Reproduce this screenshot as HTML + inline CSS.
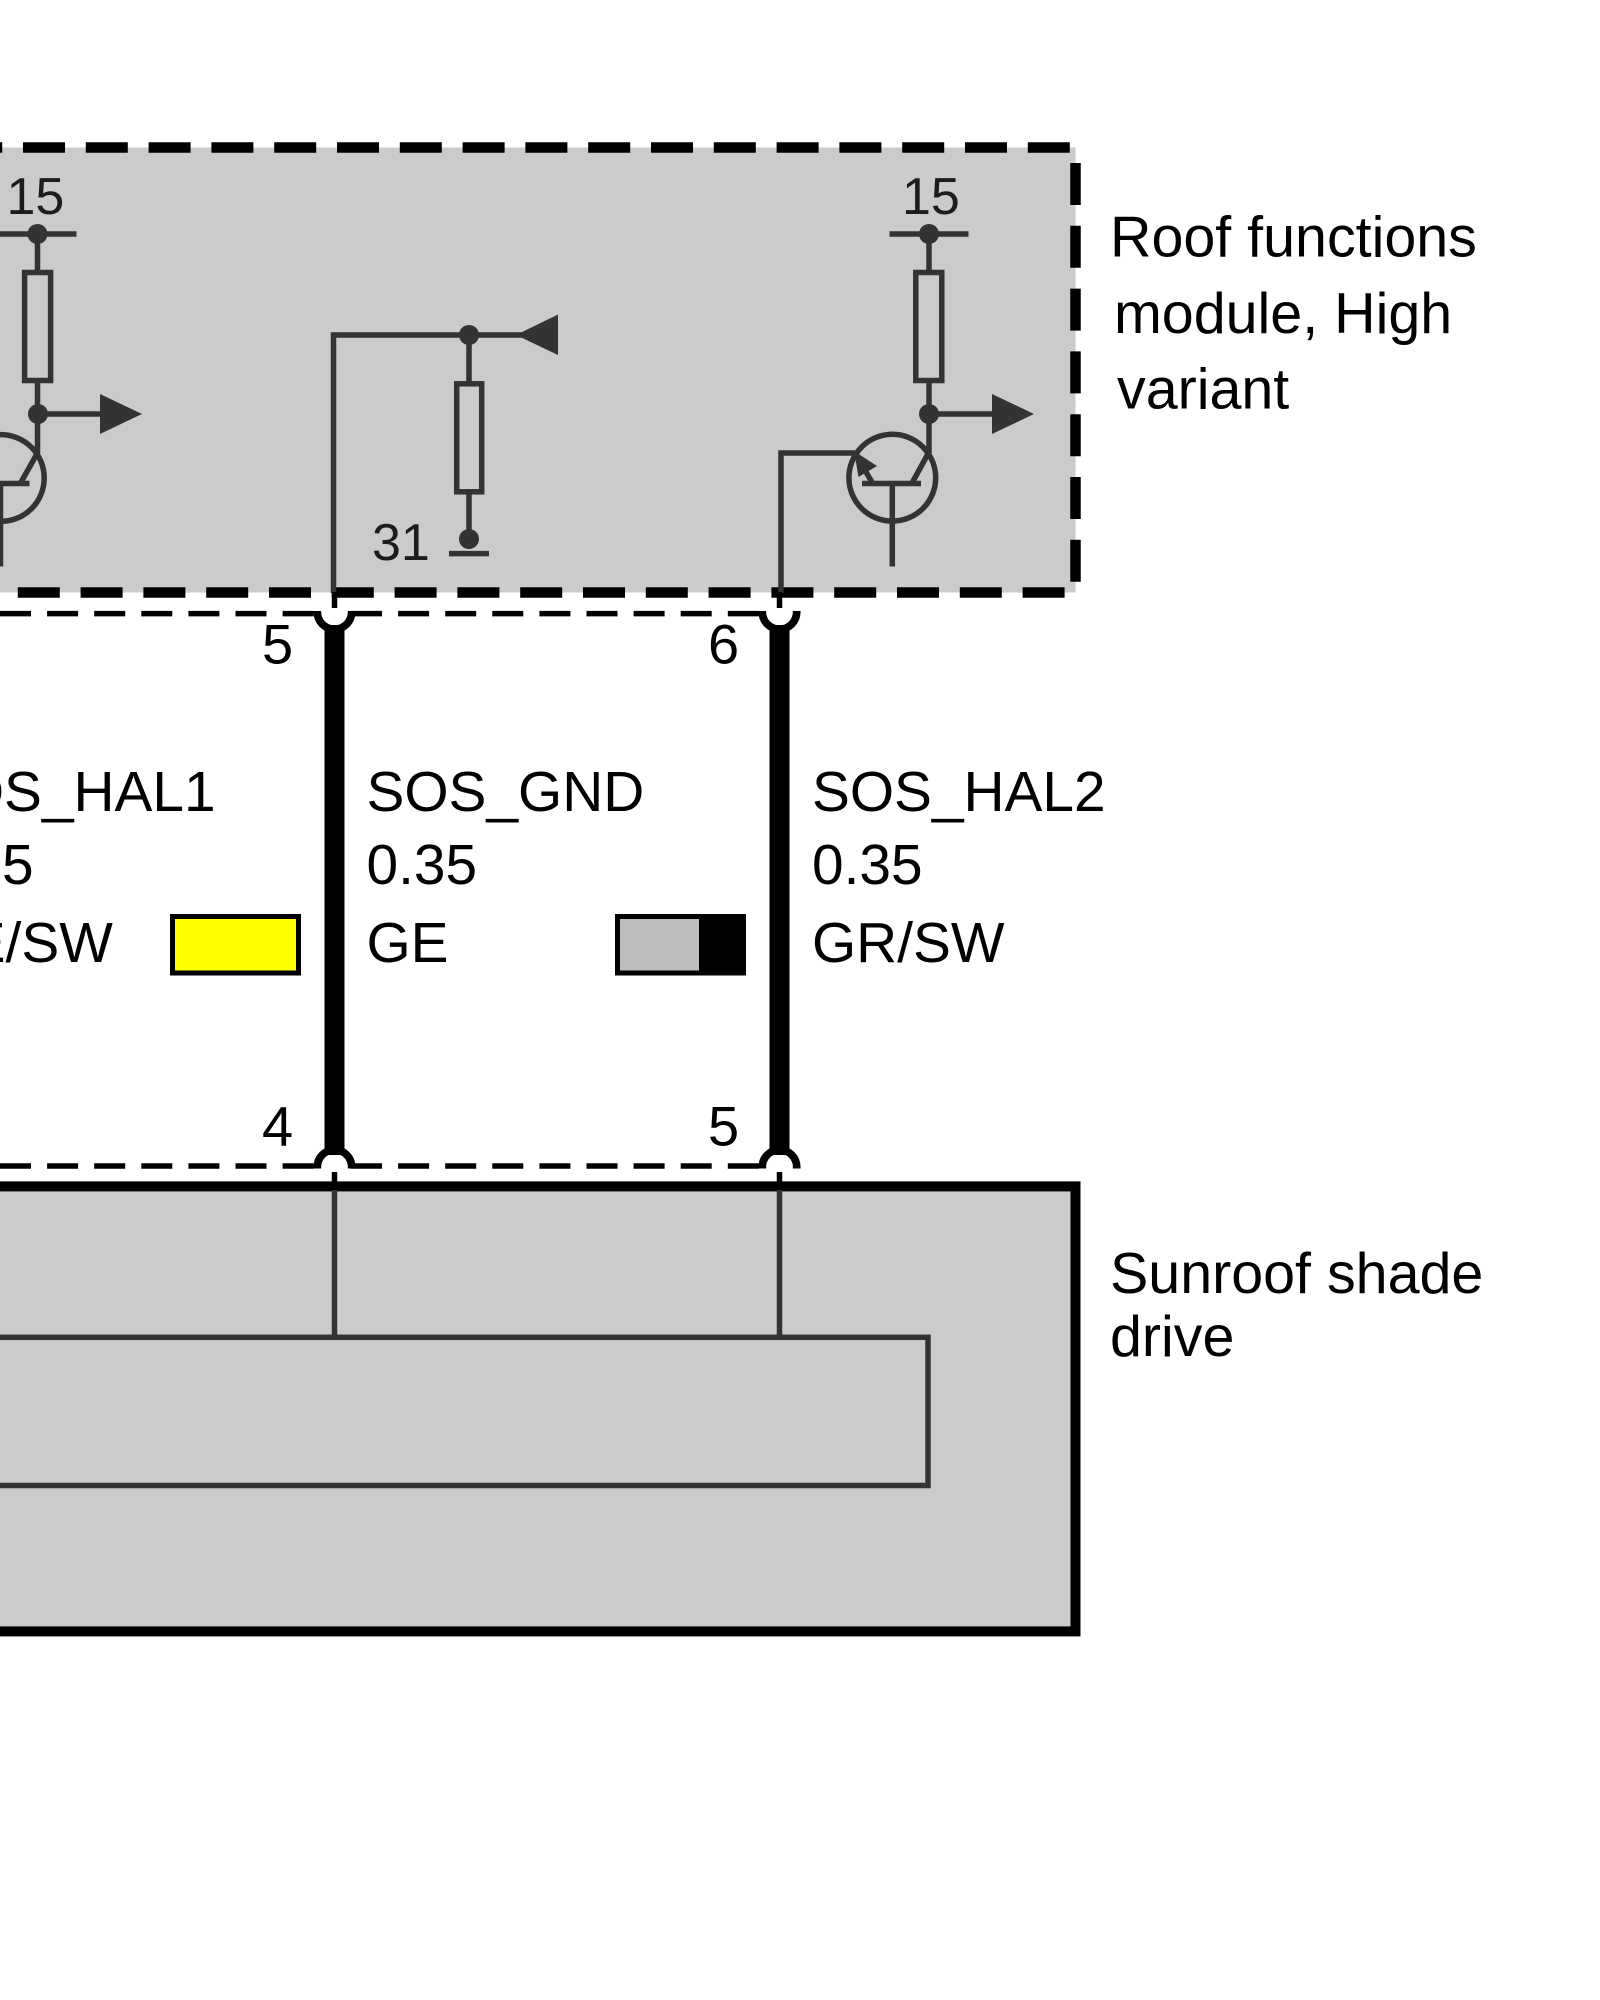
<!DOCTYPE html>
<html>
<head>
<meta charset="utf-8">
<style>
html,body{margin:0;padding:0;background:#fff;width:1600px;height:2000px;overflow:hidden}
svg{display:block}
text{font-family:"Liberation Sans",sans-serif;font-size:56.8px;fill:#000}
.l{font-size:57.4px}
.p{font-size:56px}
.n{font-size:52px;fill:#1c1c1c}
</style>
</head>
<body>
<svg width="1600" height="2000" viewBox="0 0 1600 2000" xmlns="http://www.w3.org/2000/svg">
<rect width="1600" height="2000" fill="#fff"/>

<!-- Roof functions module -->
<rect x="-10" y="147.5" width="1085.5" height="445" fill="#cbcbcb"/>
<g stroke="#000" stroke-width="10.5" fill="none">
  <line x1="-40" y1="147.5" x2="1071" y2="147.5" stroke-dasharray="42 20.8" stroke-dashoffset="-0.2"/>
  <line x1="-45" y1="592.5" x2="1065" y2="592.5" stroke-dasharray="42 20.8" stroke-dashoffset="0"/>
  <line x1="1075.5" y1="163" x2="1075.5" y2="582" stroke-dasharray="42 20.8"/>
</g>

<!-- Left transistor circuit (cropped) -->
<g stroke="#333" stroke-width="5.5" fill="none">
  <line x1="-5" y1="234" x2="76.5" y2="234"/>
  <line x1="37.5" y1="234" x2="37.5" y2="272"/>
  <rect x="24.6" y="272.5" width="26" height="108"/>
  <line x1="37.5" y1="381" x2="37.5" y2="453"/>
  <line x1="38" y1="414" x2="102" y2="414"/>
  <circle cx="0.8" cy="478" r="43.4"/>
  <line x1="38" y1="452" x2="20" y2="484"/>
  <line x1="-10" y1="483.5" x2="29.5" y2="483.5"/>
  <line x1="0.5" y1="483.5" x2="0.5" y2="566.5"/>
</g>
<circle cx="37.5" cy="234" r="10" fill="#333"/>
<circle cx="38" cy="414" r="10" fill="#333"/>
<polygon points="100,394 142,414 100,434" fill="#333"/>

<!-- Middle circuit -->
<g stroke="#333" stroke-width="5.5" fill="none">
  <polyline points="333.5,593 333.5,335 525,335"/>
  <line x1="469" y1="335" x2="469" y2="383"/>
  <rect x="456.7" y="383.8" width="25" height="108"/>
  <line x1="469" y1="492" x2="469" y2="540"/>
  <line x1="449" y1="553.6" x2="489" y2="553.6"/>
</g>
<circle cx="469" cy="335" r="10" fill="#333"/>
<circle cx="469" cy="539" r="10" fill="#333"/>
<polygon points="516,335 558,314.5 558,355" fill="#333"/>
<text class="n" x="372" y="560">31</text>

<!-- Right transistor circuit -->
<g stroke="#333" stroke-width="5.5" fill="none">
  <line x1="889.5" y1="234" x2="968.5" y2="234"/>
  <line x1="929" y1="234" x2="929" y2="272"/>
  <rect x="915.8" y="272.5" width="26" height="108"/>
  <line x1="929" y1="381" x2="929" y2="453"/>
  <line x1="929" y1="414" x2="995" y2="414"/>
  <circle cx="892.3" cy="477.7" r="43.4"/>
  <line x1="929" y1="452" x2="911.5" y2="484"/>
  <line x1="862" y1="483.5" x2="921" y2="483.5"/>
  <line x1="892.3" y1="483.5" x2="892.3" y2="566.5"/>
  <line x1="873" y1="484" x2="855" y2="453"/>
  <polyline points="855,453 781,453 781,593"/>
</g>
<circle cx="929" cy="234" r="10" fill="#333"/>
<circle cx="929" cy="414" r="10" fill="#333"/>
<polygon points="992,394 1034,414 992,434" fill="#333"/>
<polygon points="854,451 858.5,477 877,466" fill="#333"/>

<!-- Numbers 15 -->
<text class="n" x="6.5" y="214">15</text>
<text class="n" x="902" y="214">15</text>

<!-- Connector dashed lines -->
<g stroke="#000" stroke-width="5.5" fill="none">
  <line x1="0" y1="613.6" x2="316" y2="613.6" stroke-dasharray="31 16.1"/>
  <line x1="351" y1="613.6" x2="762" y2="613.6" stroke-dasharray="31 16.1"/>
  <line x1="0" y1="1166" x2="316" y2="1166" stroke-dasharray="31 16.1"/>
  <line x1="351" y1="1166" x2="762" y2="1166" stroke-dasharray="31 16.1"/>
  <line x1="334.5" y1="592" x2="334.5" y2="608"/>
  <line x1="779.5" y1="592" x2="779.5" y2="608"/>
  <line x1="334.5" y1="1172" x2="334.5" y2="1190"/>
  <line x1="779.5" y1="1172" x2="779.5" y2="1190"/>
</g>

<!-- Thick wires and cups -->
<rect x="324.5" y="625" width="20" height="530" fill="#000"/>
<rect x="769.5" y="625" width="20" height="530" fill="#000"/>
<g stroke="#000" stroke-width="7.7" fill="none">
  <path d="M317.3 611 L317.3 612 A17.2 17.2 0 0 0 351.7 612 L351.7 611"/>
  <path d="M762.3 611 L762.3 612 A17.2 17.2 0 0 0 796.7 612 L796.7 611"/>
  <path d="M317.3 1168.5 L317.3 1167 A17.2 17.2 0 0 1 351.7 1167 L351.7 1168.5"/>
  <path d="M762.3 1168.5 L762.3 1167 A17.2 17.2 0 0 1 796.7 1167 L796.7 1168.5"/>
</g>

<!-- Wire labels -->
<text x="-78" y="811">SOS_HAL1</text>
<text x="-77" y="884">0.35</text>
<text x="-76.5" y="962">GE/SW</text>
<text x="366.5" y="811">SOS_GND</text>
<text x="366.5" y="884">0.35</text>
<text x="366.5" y="962">GE</text>
<text x="812" y="811">SOS_HAL2</text>
<text x="812" y="884">0.35</text>
<text x="812" y="962">GR/SW</text>

<!-- Pin numbers -->
<text class="p" x="262" y="663.5">5</text>
<text class="p" x="708" y="663.5">6</text>
<text class="p" x="262" y="1145.5">4</text>
<text class="p" x="708" y="1145.5">5</text>

<!-- Swatches -->
<rect x="172.5" y="916.5" width="126" height="56.5" fill="#ffff00" stroke="#000" stroke-width="5"/>
<rect x="617.5" y="916.5" width="126" height="56.5" fill="#bdbdbd" stroke="#000" stroke-width="5"/>
<rect x="699" y="914" width="47" height="61.5" fill="#000"/>

<!-- Sunroof shade drive -->
<rect x="-10" y="1186.4" width="1085.5" height="445" fill="#cbcbcb" stroke="#000" stroke-width="10"/>
<rect x="-10" y="1337.3" width="938" height="148.2" fill="#cbcbcb" stroke="#333" stroke-width="5.5"/>
<line x1="334.5" y1="1190" x2="334.5" y2="1337" stroke="#333" stroke-width="5.5"/>
<line x1="779.5" y1="1190" x2="779.5" y2="1337" stroke="#333" stroke-width="5.5"/>

<!-- Component labels -->
<text class="l" x="1110" y="256.5">Roof functions</text>
<text class="l" x="1114" y="333">module, High</text>
<text class="l" x="1117" y="408.5">variant</text>
<text class="l" x="1110" y="1293">Sunroof shade</text>
<text class="l" x="1110" y="1356">drive</text>
</svg>
</body>
</html>
